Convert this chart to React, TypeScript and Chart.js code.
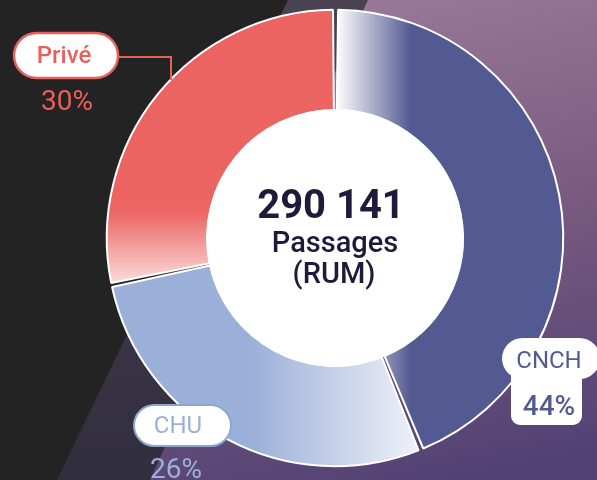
import { useEffect, useRef } from 'react';
import { Chart, registerables } from 'chart.js';

Chart.register(...registerables);

// ---- data ----
const categories = ['CNCH', 'CHU', 'Privé'];
// arc shares as drawn in the picture
const shares = [43.9, 27.8, 28.3];
const percentLabels = ['44%', '26%', '30%'];
const centerLines = ['290 141', 'Passages', '(RUM)'];

// ---- styles ----
const solidColors = ['#535a92', '#9bb0d8', '#ec6461'];
const FONT = 'Roboto, "Noto Sans", sans-serif';

function sliceFill(ctx: any) {
  const chart = ctx.chart;
  const area = chart.chartArea;
  const i = ctx.dataIndex;
  if (!area) return solidColors[i];
  const cx = (area.left + area.right) / 2;
  const cy = (area.top + area.bottom) / 2;
  const c = chart.ctx as CanvasRenderingContext2D;
  if (i === 0) {
    const g = c.createLinearGradient(cx + 1, 0, cx + 76, 0);
    g.addColorStop(0, '#ffffff');
    g.addColorStop(1, '#535a92');
    return g;
  }
  if (i === 1) {
    const g = c.createLinearGradient(cx - 84, 0, cx + 100, 0);
    g.addColorStop(0, '#9bb0d8');
    g.addColorStop(1, '#f6f7fb');
    return g;
  }
  const g = c.createLinearGradient(0, cy - 40, 0, cy + 60);
  g.addColorStop(0, '#ec6461');
  g.addColorStop(0.15, '#ec6764');
  g.addColorStop(1, '#fdf4f4');
  return g;
}

function roundRect(c: CanvasRenderingContext2D, x: number, y: number, w: number, h: number, r: number | number[]) {
  c.beginPath();
  (c as any).roundRect(x, y, w, h, r);
}

const backgroundPlugin = {
  id: 'bgShapes',
  beforeDraw(chart: any) {
    const c = chart.ctx as CanvasRenderingContext2D;
    const W = chart.width, H = chart.height;
    c.save();
    c.fillStyle = '#232323';
    c.fillRect(0, 0, W, H);
    // dark grey-purple band
    let g = c.createLinearGradient(0, 0, 0, H);
    g.addColorStop(0, '#4a4251');
    g.addColorStop(1, '#312e40');
    c.fillStyle = g;
    c.beginPath();
    c.moveTo(288, 0);
    c.lineTo(W, 0);
    c.lineTo(W, H);
    c.lineTo(57, H);
    c.closePath();
    c.fill();
    // purple band
    g = c.createLinearGradient(420, 0, 520, H);
    g.addColorStop(0, '#977797');
    g.addColorStop(0.45, '#7a5a80');
    g.addColorStop(1, '#4f4173');
    c.fillStyle = g;
    c.beginPath();
    c.moveTo(368, 0);
    c.lineTo(W, 0);
    c.lineTo(W, H);
    c.lineTo(150, H);
    c.closePath();
    c.fill();
    c.restore();
  },
};

const centerPlugin = {
  id: 'centerDisc',
  afterDatasetsDraw(chart: any) {
    const arc = chart.getDatasetMeta(0).data[0];
    if (!arc) return;
    const c = chart.ctx as CanvasRenderingContext2D;
    const { x, y, innerRadius } = arc;
    c.save();
    c.fillStyle = '#ffffff';
    c.beginPath();
    c.arc(x, y, innerRadius + 2.5, 0, Math.PI * 2);
    c.fill();
    c.fillStyle = '#1d1b3a';
    c.textAlign = 'center';
    c.textBaseline = 'alphabetic';
    c.font = `bold 40px ${FONT}`;
    c.fillText(centerLines[0], x - 4, y - 20);
    c.font = `500 29px ${FONT}`;
    c.fillText(centerLines[1], x, y + 14);
    c.fillText(centerLines[2], x - 1, y + 45);
    c.restore();
  },
};

const labelPlugin = {
  id: 'sliceLabels',
  afterDraw(chart: any) {
    const c = chart.ctx as CanvasRenderingContext2D;
    c.save();
    c.textAlign = 'center';
    c.textBaseline = 'alphabetic';

    // Privé (index 2)
    const red = '#e8605c';
    c.strokeStyle = red;
    c.lineWidth = 2;
    c.beginPath();
    c.moveTo(118, 57);
    c.lineTo(171, 57);
    c.lineTo(171, 80);
    c.stroke();
    roundRect(c, 14, 33, 104, 45, 22.5);
    c.fillStyle = '#ffffff';
    c.fill();
    c.lineWidth = 2.5;
    c.stroke();
    c.fillStyle = red;
    c.font = `500 24px ${FONT}`;
    c.fillText(categories[2], 64, 63);
    c.font = `400 28px ${FONT}`;
    c.fillText(percentLabels[2], 67, 110);

    // CNCH (index 0)
    const navy = '#535a92';
    c.fillStyle = '#ffffff';
    roundRect(c, 511, 372, 71, 53, [0, 0, 9, 9]);
    c.fill();
    roundRect(c, 502, 338, 98, 41, 20.5);
    c.fill();
    c.fillStyle = navy;
    c.font = `400 24px ${FONT}`;
    c.fillText(categories[0], 549, 368);
    c.font = `500 28px ${FONT}`;
    c.fillText(percentLabels[0], 549, 415);

    // CHU (index 1)
    const light = '#9bb0d8';
    roundRect(c, 134, 405, 97, 41, 20.5);
    c.fillStyle = '#ffffff';
    c.fill();
    c.strokeStyle = '#8fa5cf';
    c.lineWidth = 2;
    c.stroke();
    c.fillStyle = light;
    c.font = `400 24px ${FONT}`;
    c.fillText(categories[1], 178, 433);
    c.font = `400 28px ${FONT}`;
    c.fillText(percentLabels[1], 176, 478);

    c.restore();
  },
};

export default function App() {
  const ref = useRef<HTMLCanvasElement | null>(null);

  useEffect(() => {
    if (!ref.current) return;
    const chart = new Chart(ref.current, {
      type: 'doughnut',
      data: {
        labels: categories,
        datasets: [
          {
            data: shares,
            backgroundColor: sliceFill as any,
            borderColor: '#ffffff',
            borderWidth: 2,
            borderAlign: 'center',
            spacing: 3.5,
            hoverOffset: 0,
          } as any,
        ],
      },
      options: {
        responsive: false,
        animation: false,
        radius: 226.5,
        cutout: '55.7%',
        spacing: 3.5,
        layout: { padding: { left: 106, top: 9, right: 33, bottom: 13 } },
        plugins: {
          legend: { display: false },
          tooltip: { enabled: false },
        },
        events: [],
      } as any,
      plugins: [backgroundPlugin, centerPlugin, labelPlugin],
    });
    return () => chart.destroy();
  }, []);

  return (
    <div style={{ position: 'fixed', left: 0, top: 0, width: 597, height: 480, overflow: 'hidden' }}>
      <canvas ref={ref} width={597} height={480} style={{ display: 'block', width: 597, height: 480 }} />
    </div>
  );
}
